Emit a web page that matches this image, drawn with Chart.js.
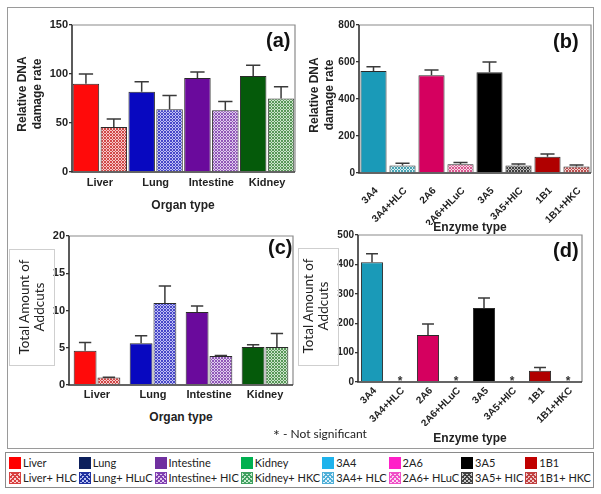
<!DOCTYPE html>
<html>
<head>
<meta charset="utf-8">
<script src="https://cdn.jsdelivr.net/npm/chart.js@4.4.1/dist/chart.umd.min.js"></script>
<style>
    body { margin: 0; background: #fff; }
    #page { position: relative; width: 601px; height: 494px; background: #fff; overflow: hidden; font-family: "Liberation Sans", Arial, sans-serif; }
    #page canvas { position: absolute; }
    .frame { position: absolute; left: 7px; top: 7px; width: 585px; height: 440px; border: 1px solid #9a9a9a; }
    .txt { position: absolute; white-space: nowrap; transform: translate(-50%, -50%); color: #222; }
    .bold { font-weight: bold; font-size: 12px; }
    .ytitle { position: absolute; white-space: nowrap; text-align: center; transform: translate(-50%, -50%) rotate(-90deg); color: #222; }
    .tag { position: absolute; font-weight: bold; font-size: 20px; color: #111; }
    .ybox { position: absolute; border: 1px solid #cfcfcf; }
    #legend { position: absolute; left: 5px; top: 452px; width: 589px; height: 36px; border: 1px solid #8a8a8a;
              display: grid; grid-template-columns: repeat(8, auto); justify-content: start; align-content: center;
              row-gap: 2px; column-gap: 2px; padding-left: 3px; box-sizing: border-box;
              font-family: Lato, "Open Sans", sans-serif; font-size: 11px; color: #222; }
    .item { display: flex; align-items: center; white-space: nowrap; }
    .sw { width: 12px; height: 12px; margin-right: 2px; flex: none; }
</style>
</head>
<body>
<div id="page">
    <div class="frame"></div>
    <canvas id="chartA" width="300" height="215" style="left:0;top:0"></canvas>
    <canvas id="chartB" width="301" height="225" style="left:300px;top:0"></canvas>
    <canvas id="chartC" width="300" height="190" style="left:0;top:220px"></canvas>
    <canvas id="chartD" width="301" height="204" style="left:300px;top:222px"></canvas>

    <div class="ytitle bold" style="left:30px;top:94px;line-height:15px">Relative DNA<br>damage rate</div>
    <div class="ytitle bold" style="left:322px;top:95px;line-height:15px">Relative DNA<br>damage rate</div>
    <div class="ybox" style="left:9px;top:249px;width:44px;height:115px"></div>
    <div class="ybox" style="left:298px;top:248px;width:39px;height:116px"></div>
    <div class="ytitle" style="left:32px;top:307px;line-height:15px;font-family:Lato,sans-serif;font-size:13.5px">Total Amount of<br>Addcuts</div>
    <div class="ytitle" style="left:316px;top:306px;line-height:15px;font-family:Lato,sans-serif;font-size:13.5px">Total Amount of<br>Addcuts</div>

    <div class="txt bold" style="left:183px;top:205px">Organ type</div>
    <div class="txt bold" style="left:470px;top:227px">Enzyme type</div>
    <div class="txt bold" style="left:181px;top:417px">Organ type</div>
    <div class="txt bold" style="left:470px;top:438px">Enzyme type</div>
    <div class="txt" style="left:320px;top:434px;font-family:Lato,sans-serif;font-size:12px"><span style="font-size:16px;vertical-align:-3px">*</span> - Not significant</div>

    <div class="tag" style="left:266px;top:29px">(a)</div>
    <div class="tag" style="left:553px;top:30px">(b)</div>
    <div class="tag" style="left:268px;top:236px">(c)</div>
    <div class="tag" style="left:553px;top:239px">(d)</div>

    <div id="legend"></div>
</div>
<script>
const organs = ["Liver", "Lung", "Intestine", "Kidney"];
const enzymes = ["3A4", "3A4+HLC", "2A6", "2A6+HLuC", "3A5", "3A5+HIC", "1B1", "1B1+HKC"];

// (a) relative DNA damage rate, organs
const aControl = [90, 82, 96, 98];
const aControlSd = [10, 10, 6, 11];
const aTreated = [46, 64, 63, 75];
const aTreatedSd = [8, 14, 9, 12];

// (b) relative DNA damage rate, enzymes
const bValues = [551, 40, 528, 47, 544, 40, 88, 35];
const bSd = [23, 13, 29, 10, 56, 8, 15, 8];

// (c) total amount of adducts, organs
const cControl = [4.6, 5.6, 9.8, 5.1];
const cControlSd = [1.1, 1.0, 0.8, 0.3];
const cTreated = [1.0, 11.0, 3.9, 5.1];
const cTreatedSd = [0.05, 2.3, 0.05, 1.8];

// (d) total amount of adducts, enzymes
const dValues = [407, 0, 160, 0, 252, 0, 38, 0];
const dSd = [29, 0, 37, 0, 34, 0, 11, 0];
const dNotSig = [false, true, false, true, false, true, false, true];

const legendSolid = [
    ["Liver", "#ff0000"], ["Lung", "#0c1f5c"], ["Intestine", "#7030a0"], ["Kidney", "#00b050"],
    ["3A4", "#1fb3ec"], ["2A6", "#ff1fc8"], ["3A5", "#000000"], ["1B1", "#c00000"]
];
const legendHatch = [
    ["Liver+ HLC", "#d84040", "#fbd0d0"], ["Lung+ HLuC", "#2030a0", "#b8c0f0"], ["Intestine+ HIC", "#8040b0", "#e0c8f0"],
    ["Kidney+ HKC", "#40a060", "#c8ecd0"], ["3A4+ HLC", "#50b0d8", "#dcf0fa"], ["2A6+ HLuC", "#f050c8", "#fbd8f0"],
    ["3A5+ HIC", "#404040", "#c8c8c8"], ["1B1+ HKC", "#c04040", "#f0c8c8"]
];

function hatch(dark, light) {
    const c = document.createElement("canvas");
    c.width = 3; c.height = 3;
    const g = c.getContext("2d");
    g.fillStyle = light;
    g.fillRect(0, 0, 3, 3);
    g.fillStyle = dark;
    [[0, 0], [1, 1], [2, 2], [2, 0], [0, 2]].forEach(([x, y]) => g.fillRect(x, y, 1, 1));
    return g.createPattern(c, "repeat");
}

const organSolid = ["#ff0a0a", "#0808c0", "#6a0a9c", "#055a0a"];
const organHatch = [
    hatch("#d04848", "#f8c8c8"), hatch("#4848c8", "#c0c0f4"),
    hatch("#9058b8", "#e0ccee"), hatch("#589858", "#cce4cc")
];
const enzymeColors = [
    "#1a9ab8", hatch("#4aa4b4", "#d4eef2"), "#d5005f", hatch("#d85890", "#f8d4e2"),
    "#000000", hatch("#404040", "#b8b8b8"), "#b00000", hatch("#b85050", "#f2cccc")
];

const errorBars = {
    id: "errorBars",
    afterDatasetsDraw(chart) {
        const ctx = chart.ctx;
        const y = chart.scales.y;
        chart.data.datasets.forEach((ds, i) => {
            if (!ds.errors) return;
            chart.getDatasetMeta(i).data.forEach((bar, j) => {
                const err = ds.errors[j];
                if (!err) return;
                const top = y.getPixelForValue(ds.data[j] + err);
                const half = bar.width * 0.27;
                ctx.save();
                ctx.strokeStyle = "#3a3a3a";
                ctx.lineWidth = 1.5;
                ctx.beginPath();
                ctx.moveTo(bar.x, bar.y);
                ctx.lineTo(bar.x, top);
                ctx.moveTo(bar.x - half, top);
                ctx.lineTo(bar.x + half, top);
                ctx.stroke();
                ctx.restore();
            });
        });
    }
};

const plotBox = {
    id: "plotBox",
    afterDraw(chart) {
        const { left, right, top, bottom } = chart.chartArea;
        const ctx = chart.ctx;
        ctx.save();
        ctx.strokeStyle = "#8a8a8a";
        ctx.lineWidth = 1.2;
        ctx.beginPath();
        ctx.moveTo(left, top); ctx.lineTo(right, top); ctx.lineTo(right, bottom);
        ctx.stroke();
        ctx.strokeStyle = "#333";
        ctx.lineWidth = 1.6;
        ctx.beginPath();
        ctx.moveTo(left, top); ctx.lineTo(left, bottom); ctx.lineTo(right, bottom);
        ctx.stroke();
        ctx.restore();
    }
};

const stars = {
    id: "stars",
    afterDatasetsDraw(chart) {
        const flags = chart.options.plugins.stars && chart.options.plugins.stars.flags;
        if (!flags) return;
        const ctx = chart.ctx;
        const y0 = chart.scales.y.getPixelForValue(0);
        ctx.save();
        ctx.fillStyle = "#333";
        ctx.font = "bold 12px 'Liberation Sans', Arial, sans-serif";
        ctx.textAlign = "center";
        ctx.textBaseline = "alphabetic";
        chart.getDatasetMeta(0).data.forEach((bar, j) => {
            if (flags[j]) ctx.fillText("*", bar.x, y0 + 3);
        });
        ctx.restore();
    }
};

function makeChart(id, labels, datasets, o) {
    return new Chart(document.getElementById(id), {
        type: "bar",
        data: { labels, datasets },
        plugins: [errorBars, plotBox, stars],
        options: {
            responsive: false,
            animation: false,
            layout: { padding: o.padding },
            plugins: { legend: { display: false }, tooltip: { enabled: false }, stars: { flags: o.stars } },
            datasets: { bar: { categoryPercentage: o.cat, barPercentage: o.bar, borderColor: "#2a2a2a", borderWidth: 1 } },
            scales: {
                x: {
                    grid: { display: false, drawTicks: false },
                    border: { display: false },
                    ticks: {
                        color: "#222", autoSkip: false, padding: o.xPad, labelOffset: o.xShift || 0,
                        maxRotation: o.rot, minRotation: o.rot,
                        font: { family: "'Liberation Sans', Arial, sans-serif", weight: "bold", size: o.xSize }
                    },
                    afterFit: s => { s.height = o.xHeight; }
                },
                y: {
                    min: 0, max: o.max,
                    grid: { drawOnChartArea: false, drawTicks: true, tickLength: 3, color: "#333", lineWidth: 1.3 },
                    border: { display: false },
                    ticks: {
                        stepSize: o.step, color: "#222", padding: 1,
                        font: { family: "'Liberation Sans', Arial, sans-serif", weight: "bold", size: o.ySize }
                    },
                    afterFit: s => { s.width = o.yWidth; }
                }
            }
        }
    });
}

makeChart("chartA", organs, [
    { data: aControl, errors: aControlSd, backgroundColor: organSolid },
    { data: aTreated, errors: aTreatedSd, backgroundColor: organHatch }
], { padding: { top: 25, right: 5, left: 0, bottom: 0 }, yWidth: 72, xHeight: 43, max: 150, step: 50,
     cat: 1.0, bar: 0.95, rot: 0, xPad: 4, xSize: 11, ySize: 11 });

makeChart("chartB", enzymes, [
    { data: bValues, errors: bSd, backgroundColor: enzymeColors }
], { padding: { top: 25, right: 10, left: 0, bottom: 0 }, yWidth: 59, xHeight: 52, max: 800, step: 200,
     cat: 1.0, bar: 0.9, rot: 45, xPad: 12, xShift: 3, xSize: 10, ySize: 10 });

makeChart("chartC", organs, [
    { data: cControl, errors: cControlSd, backgroundColor: organSolid },
    { data: cTreated, errors: cTreatedSd, backgroundColor: organHatch }
], { padding: { top: 16, right: 7, left: 0, bottom: 0 }, yWidth: 69, xHeight: 25, max: 20, step: 5,
     cat: 0.85, bar: 0.96, rot: 0, xPad: 3, xSize: 11, ySize: 11 });

makeChart("chartD", enzymes, [
    { data: dValues, errors: dSd, backgroundColor: enzymeColors }
], { padding: { top: 13, right: 19, left: 0, bottom: 0 }, yWidth: 58, xHeight: 44, max: 500, step: 100,
     cat: 1.0, bar: 0.79, rot: 45, xPad: 3, xShift: 3, xSize: 10, ySize: 10, stars: dNotSig });

function buildLegend() {
    const box = document.getElementById("legend");
    legendSolid.forEach(([label, color]) => {
        box.insertAdjacentHTML("beforeend",
            `<div class="item"><span class="sw" style="background:${color}"></span>${label}</div>`);
    });
    legendHatch.forEach(([label, dark, light]) => {
        const bg = `repeating-linear-gradient(45deg, ${dark} 0 1px, transparent 1px 3px), repeating-linear-gradient(-45deg, ${dark} 0 1px, ${light} 1px 3px)`;
        box.insertAdjacentHTML("beforeend",
            `<div class="item"><span class="sw" style="background:${bg};outline:1px solid ${dark};outline-offset:-1px"></span>${label}</div>`);
    });
}
buildLegend();
</script>
</body>
</html>
